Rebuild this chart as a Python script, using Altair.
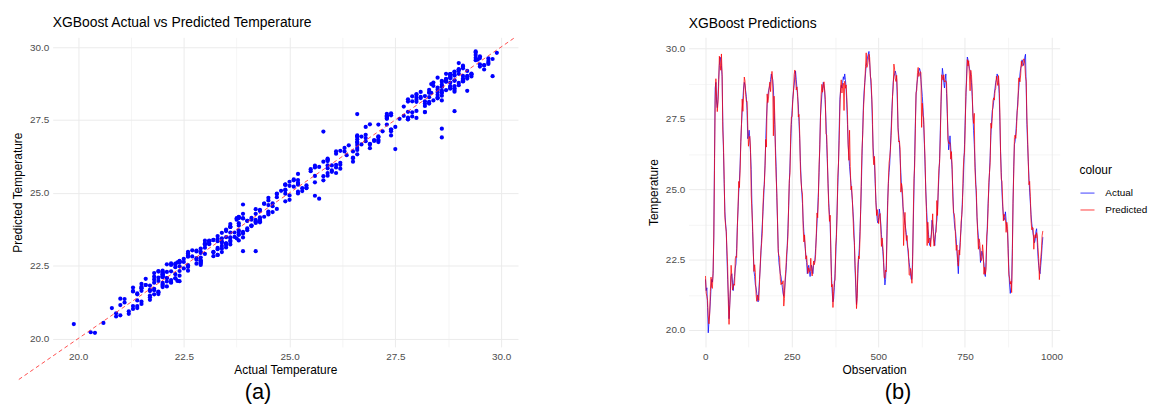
import altair as alt
import pandas as pd

# ---- data ----
# observations 1, 5, 9, ... (every 4th, first set)
actual_a = [
    21.8, 21.5, 19.9, 20.6, 21.5, 21.7, 23.3, 28.6, 28.1, 28.2,
    29.4, 29.6, 29.0, 26.3, 24.2, 23.5, 21.8, 20.4, 21.4, 22.0,
    21.4, 21.9, 22.35, 23.7, 24.9, 25.9, 27.3, 28.2, 28.8, 28.5,
    27.8, 26.9, 26.8, 25.7, 23.5, 22.1, 21.6, 21.3, 21.0, 21.8,
    22.7, 23.75, 24.7, 25.9, 27.5, 28.3, 28.6, 28.9, 29.0, 28.6,
    27.3, 25.8, 23.8, 22.4, 22.0, 21.7, 21.3, 21.4, 22.0, 23.0,
    24.3, 25.9, 27.3, 28.2, 28.7, 29.2, 28.6, 28.0, 26.8, 25.4,
    24.5, 23.5, 22.9, 22.4, 22.2, 22.1, 22.1, 22.2, 22.3, 22.5,
    23.3, 24.3, 25.6, 27.6, 28.35, 28.8, 28.5, 27.4, 25.9, 24.5,
    23.75, 21.9, 21.0, 21.5, 22.6, 24.3, 25.9, 28.2, 28.7, 28.8,
    28.9, 28.9, 28.0, 26.6, 25.8, 25.2, 24.6, 23.8, 22.1, 20.9,
    22.0, 22.9, 24.2, 26.2, 28.0, 28.8, 29.4, 29.7, 29.9, 29.1,
    28.2, 26.5, 25.9, 24.6, 23.9, 24.0, 24.1, 23.4, 22.8, 22.0,
    21.8, 23.6, 25.2, 25.9, 27.1, 28.3, 29.0, 29.2, 28.9, 27.2,
    26.6, 25.6, 24.8, 24.2, 23.8, 23.4, 22.9, 22.4, 22.0, 21.8,
    23.8, 26.2, 28.35, 28.9, 29.2, 29.2, 28.6, 27.9, 26.6, 25.0,
    23.9, 23.4, 23.0, 23.4, 23.75, 23.2, 23.4, 23.9, 24.9, 26.1,
    28.0, 29.3, 28.8, 28.9, 28.4, 27.0, 26.6, 26.5, 25.7, 24.3,
    23.6, 23.2, 22.4, 22.6, 23.3, 24.1, 25.2, 26.6, 28.3, 29.7,
    29.45, 29.2, 28.8, 27.7, 26.6, 25.4, 24.0, 23.3, 22.9, 22.6,
    22.7, 22.35, 21.9, 23.1, 24.5, 25.6, 26.9, 27.8, 28.1, 28.6,
    28.9, 29.0, 28.4, 26.35, 24.9, 24.1, 24.0, 23.9, 23.5, 22.1,
    21.3, 21.7, 24.5, 26.6, 27.0, 27.8, 28.5, 29.1, 29.4, 29.5,
    29.5, 29.8, 27.3, 26.0, 24.9, 24.1, 23.6, 23.3, 23.2, 23.6,
    22.6, 22.1, 22.3, 23.0,
]
predicted_a = [
    21.92, 21.19, 20.5, 20.54, 21.88, 21.48, 23.34, 28.17, 28.29, 28.06,
    29.73, 29.23, 29.08, 26.54, 24.01, 23.48, 22.25, 20.2, 21.55, 21.91,
    21.52, 21.59, 22.62, 23.64, 25.28, 25.68, 27.34, 27.77, 28.99, 28.36,
    28.13, 26.53, 26.88, 24.8, 23.74, 22.08, 22.05, 21.02, 21.15, 21.71,
    22.82, 23.44, 24.97, 25.84, 26.5, 28.08, 28.64, 28.47, 29.19, 26.9,
    27.63, 25.43, 23.88, 22.64, 21.81, 21.68, 21.75, 21.12, 22.15, 22.91,
    24.42, 25.59, 27.57, 28.14, 29.08, 28.98, 28.64, 27.57, 26.99, 25.26,
    24.83, 23.13, 22.98, 22.64, 22.01, 22.08, 22.55, 21.92, 22.45, 22.41,
    23.42, 23.99, 25.87, 27.54, 28.73, 28.58, 28.54, 26.97, 26.09, 24.36,
    24.08, 21.53, 20.8, 21.74, 22.98, 24.08, 25.94, 27.77, 28.89, 28.66,
    27.8, 28.59, 28.27, 26.54, 27.1, 24.98, 24.64, 23.37, 22.29, 20.76,
    22.33, 22.53, 24.28, 26.44, 27.81, 28.78, 29.85, 29.42, 29.8, 29.01,
    28.32, 26.19, 26.17, 24.54, 24.28, 23.78, 24.14, 22.97, 22.99, 21.86,
    22.13, 23.23, 25.28, 26.14, 26.91, 28.28, 29.45, 28.92, 29.05, 27.11,
    26.72, 24.9, 25.07, 23.0, 24.18, 23.18, 22.94, 21.97, 22.19, 21.66,
    24.13, 25.83, 28.43, 29.14, 29.01, 29.18, 27.2, 27.62, 26.75, 24.91,
    23.0, 23.09, 23.27, 23.34, 24.13, 22.98, 23.44, 24.6, 25.09, 25.96,
    28.12, 28.99, 29.07, 28.84, 28.78, 26.78, 26.64, 26.07, 25.89, 24.16,
    23.93, 22.83, 22.48, 22.84, 23.11, 24.08, 25.65, 26.32, 28.45, 29.61,
    29.57, 28.5, 29.07, 27.64, 27.7, 25.18, 24.04, 22.87, 23.09, 22.46,
    23.03, 21.98, 21.98, 23.34, 24.31, 25.58, 27.35, 27.52, 28.25, 28.51,
    29.02, 28.69, 28.67, 26.29, 25.28, 23.88, 24.04, 23.47, 23.69, 21.96,
    21.63, 21.33, 24.58, 26.84, 26.81, 27.78, 28.95, 28.82, 29.55, 29.41,
    29.62, 29.0, 27.57, 25.94, 25.28, 23.88, 23.64, 22.87, 23.39, 23.46,
    22.93, 21.79, 22.57, 23.36,
]
# observations 3, 7, 11, ... (every 4th, second set)
actual_b = [
    21.4, 20.8, 20.3, 21.0, 21.8, 22.0, 26.1, 28.8, 27.9, 28.9,
    29.7, 29.4, 27.4, 25.2, 23.8, 22.6, 21.2, 20.9, 21.9, 21.7,
    21.7, 22.2, 22.9, 24.3, 25.3, 26.7, 27.8, 28.6, 28.7, 28.3,
    26.8, 27.1, 26.3, 24.5, 22.8, 21.9, 21.5, 21.1, 21.4, 22.2,
    23.3, 24.2, 25.3, 26.8, 28.0, 28.5, 28.7, 29.1, 28.9, 27.9,
    26.5, 24.7, 22.9, 22.2, 21.9, 21.5, 21.2, 21.7, 22.4, 23.6,
    25.2, 26.6, 27.8, 28.5, 29.0, 28.9, 28.3, 27.4, 26.0, 24.9,
    23.9, 23.2, 22.6, 22.0, 22.3, 21.9, 22.3, 22.0, 22.4, 22.9,
    23.8, 24.9, 26.6, 28.0, 28.6, 28.7, 28.0, 26.6, 25.2, 24.1,
    22.8, 21.3, 21.1, 22.0, 23.4, 25.1, 27.1, 28.5, 28.6, 29.0,
    29.1, 28.6, 27.3, 26.2, 25.5, 24.9, 24.2, 23.0, 21.5, 21.3,
    22.5, 23.5, 25.1, 27.1, 28.5, 29.1, 29.5, 29.8, 29.5, 28.7,
    27.3, 26.1, 25.2, 24.2, 23.8, 24.3, 23.8, 23.1, 22.4, 21.6,
    22.3, 24.6, 25.6, 26.5, 27.8, 28.8, 29.1, 29.1, 28.1, 26.9,
    26.1, 25.1, 24.4, 24.0, 23.6, 23.1, 22.6, 22.2, 21.8, 22.6,
    25.0, 27.4, 28.7, 29.1, 29.3, 28.9, 28.3, 27.3, 25.8, 24.4,
    23.6, 23.1, 23.2, 23.9, 23.5, 23.0, 23.7, 24.3, 25.5, 27.1,
    28.8, 29.1, 28.6, 29.1, 27.7, 26.4, 26.9, 26.1, 25.0, 23.9,
    23.5, 22.8, 22.0, 22.9, 23.6, 24.7, 25.9, 27.5, 29.1, 29.6,
    29.3, 29.0, 28.3, 27.1, 26.0, 24.7, 23.6, 23.0, 22.4, 22.8,
    22.5, 22.0, 22.4, 23.8, 25.0, 26.2, 27.4, 27.9, 28.4, 28.8,
    29.1, 28.8, 27.4, 25.6, 24.4, 23.9, 24.2, 23.6, 22.9, 21.6,
    21.5, 22.9, 25.8, 26.7, 27.4, 28.2, 28.8, 29.3, 29.6, 29.4,
    29.7, 28.6, 26.6, 25.4, 24.5, 23.8, 23.4, 23.1, 23.5, 23.1,
    22.3, 22.0, 22.6, 23.3,
]
predicted_b = [
    21.31, 21.05, 20.22, 21.37, 21.52, 22.11, 25.68, 28.93, 27.76, 28.66,
    29.52, 29.81, 27.11, 25.35, 23.71, 22.84, 20.94, 20.87, 22.3, 21.42,
    21.63, 22.53, 22.58, 24.38, 25.06, 26.66, 28.21, 28.33, 28.85, 28.12,
    27.26, 26.82, 26.42, 24.26, 22.76, 22.32, 21.27, 21.24, 21.05, 22.31,
    23.07, 24.44, 25.16, 26.77, 28.39, 28.24, 28.81, 28.92, 28.86, 28.31,
    26.21, 24.85, 22.78, 22.58, 21.61, 21.64, 20.85, 21.82, 22.67, 23.32,
    25.31, 26.97, 27.58, 28.46, 29.24, 28.53, 28.43, 27.66, 25.72, 24.97,
    23.61, 23.38, 22.52, 22.29, 22.21, 22.09, 22.07, 22.14, 22.32, 22.68,
    24.16, 24.71, 26.47, 28.36, 28.45, 28.82, 28.19, 26.93, 25.04, 23.86,
    22.71, 21.62, 21.36, 21.77, 23.29, 25.43, 26.74, 28.61, 28.42, 28.77,
    28.84, 28.71, 27.65, 26.03, 25.81, 25.11, 24.01, 23.12, 21.78, 21.12,
    22.63, 23.21, 25.46, 26.94, 28.28, 29.36, 29.33, 29.59, 29.68, 28.91,
    27.71, 25.87, 25.44, 24.07, 23.96, 24.03, 23.66, 23.27, 22.63, 21.84,
    22.07, 24.34, 25.93, 26.42, 27.52, 28.64, 29.27, 28.83, 28.46, 26.68,
    26.42, 25.21, 24.63, 23.72, 23.47, 23.36, 22.81, 21.94, 22.03, 22.33,
    25.38, 27.17, 28.52, 29.33, 29.09, 29.16, 28.06, 27.54, 26.07, 24.18,
    23.83, 23.24, 22.96, 23.66, 23.26, 23.22, 23.49, 24.07, 25.74, 26.79,
    29.07, 28.88, 28.81, 28.86, 27.96, 26.63, 26.66, 26.34, 24.76, 24.13,
    23.26, 23.02, 22.27, 22.67, 23.84, 24.45, 26.13, 27.26, 28.87, 29.38,
    29.06, 29.23, 28.53, 27.34, 25.77, 24.96, 23.37, 23.24, 22.61, 22.57,
    22.74, 22.23, 22.16, 23.57, 25.24, 25.96, 27.17, 28.14, 28.17, 28.58,
    28.87, 29.04, 27.73, 25.36, 24.63, 24.12, 23.97, 23.83, 22.66, 21.84,
    21.73, 22.62, 25.57, 26.93, 27.16, 27.98, 28.96, 29.06, 29.37, 29.63,
    29.46, 28.84, 26.93, 25.16, 24.74, 23.56, 23.63, 23.33, 23.27, 23.34,
    22.54, 22.21, 22.84, 23.52,
]
obs_a = list(range(1, 1 + 4 * len(actual_a), 4))
obs_b = list(range(3, 3 + 4 * len(actual_b), 4))

temp_ticks = [20, 21.25, 22.5, 23.75, 25, 26.25, 27.5, 28.75, 30]
obs_ticks = [0, 125, 250, 375, 500, 625, 750, 875, 1000]
identity_line = [18.6, 30.3]
series_names = ["Actual", "Predicted"]
series_colors = ["#0000FF", "#FF0000"]
captions = ["(a)", "(b)"]

df = pd.DataFrame({
    "Observation": obs_a + obs_b,
    "Actual": actual_a + actual_b,
    "Predicted": predicted_a + predicted_b,
}).sort_values("Observation").reset_index(drop=True)
long = df.melt(id_vars="Observation", value_vars=series_names,
               var_name="colour", value_name="Temperature")


def expand(vals, frac=0.05):
    lo, hi = min(vals), max(vals)
    pad = (hi - lo) * frac
    return [lo - pad, hi + pad]


FONT = "Liberation Sans"
GRID_W = {"condition": {"test": "datum.value % 2.5 != 0", "value": 0.5}, "value": 1}
GRID_W_OBS = {"condition": {"test": "datum.value % 250 != 0", "value": 0.5}, "value": 1}
TEMP_LABELS = "datum.value % 2.5 == 0 ? format(datum.value, '.1f') : ''"
OBS_LABELS = "datum.value % 250 == 0 ? format(datum.value, 'd') : ''"
W_L, W_R, H = 469, 374, 312


def temp_axis(title, x=True):
    return alt.Axis(values=temp_ticks, labelExpr=TEMP_LABELS, gridWidth=GRID_W,
                    title=title, labelFlush=False, labelOverlap=False,
                    labelPadding=5 if x else 4, titlePadding=3 if x else 5)


def caption(text, xpx):
    return alt.Chart(pd.DataFrame({"t": [text]})).mark_text(
        fontSize=22, font=FONT, color="#000000", baseline="middle", align="center"
    ).encode(text="t:N", x=alt.value(xpx), y=alt.value(H + 46))


# ---- left: scatter ----
pts = alt.Chart(df).mark_circle(size=18, color="#0000FF", opacity=1).encode(
    x=alt.X("Actual:Q", scale=alt.Scale(domain=expand(df["Actual"]), nice=False, zero=False),
            axis=temp_axis("Actual Temperature")),
    y=alt.Y("Predicted:Q", scale=alt.Scale(domain=expand(df["Predicted"]), nice=False, zero=False),
            axis=temp_axis("Predicted Temperature", x=False)),
)
ref = alt.Chart(pd.DataFrame({"v": identity_line})).mark_line(
    color="#FF3030", strokeDash=[4, 3], strokeWidth=1, opacity=0.85, clip=False
).encode(x="v:Q", y="v:Q")

left = alt.layer(pts, ref, caption(captions[0], 207)).properties(
    width=W_L, height=H,
    title=alt.TitleParams("XGBoost Actual vs Predicted Temperature", anchor="start",
                          frame="group", fontSize=14, fontWeight="normal", color="#000000",
                          font=FONT, offset=6),
)

# ---- right: lines ----
lines = alt.Chart(long).mark_line(strokeWidth=1, opacity=0.75).encode(
    x=alt.X("Observation:Q", scale=alt.Scale(domain=expand(df["Observation"]), nice=False, zero=False),
            axis=alt.Axis(values=obs_ticks, labelExpr=OBS_LABELS, gridWidth=GRID_W_OBS,
                          title="Observation", labelFlush=False, labelOverlap=False,
                          labelPadding=5, titlePadding=3)),
    y=alt.Y("Temperature:Q",
            scale=alt.Scale(domain=expand(list(df["Actual"]) + list(df["Predicted"])), nice=False, zero=False),
            axis=temp_axis("Temperature", x=False)),
    color=alt.Color("colour:N",
                    scale=alt.Scale(domain=series_names, range=series_colors),
                    legend=alt.Legend(title="colour", orient="none", legendX=1035, legendY=129,
                                      symbolType="stroke", symbolStrokeWidth=1.5,
                                      symbolOpacity=0.5, symbolSize=200,
                                      labelFontSize=10, titleFontSize=12,
                                      titleFontWeight="normal", titleColor="#000000",
                                      labelColor="#000000", rowPadding=4, labelOffset=10,
                                      titlePadding=8)),
    detail="colour:N",
)
right = alt.layer(lines, caption(captions[1], 211)).properties(
    width=W_R, height=H,
    title=alt.TitleParams("XGBoost Predictions", anchor="start", frame="group",
                          fontSize=14, fontWeight="normal", color="#000000", font=FONT, offset=6),
)

chart = alt.hconcat(left, right, spacing=172, bounds="flush").properties(
    padding={"left": 3, "top": 6, "right": 0, "bottom": 0}
).configure(font=FONT).configure_view(stroke="transparent").configure_axis(
    domain=False, ticks=False, labelColor="#4D4D4D", labelFontSize=10,
    titleFontSize=12, titleFontWeight="normal", titleColor="#000000",
    gridColor="#EBEBEB", labelFont=FONT, titleFont=FONT,
)

chart.save("out.html", embed_options={"renderer": "svg", "actions": False})
